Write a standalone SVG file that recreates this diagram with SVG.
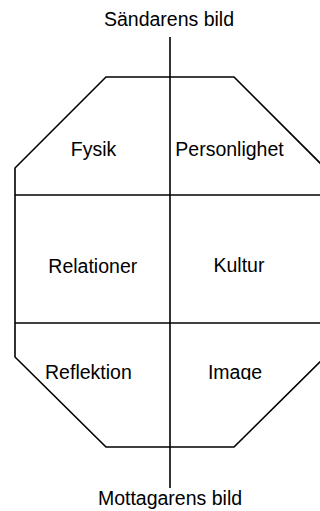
<svg xmlns="http://www.w3.org/2000/svg" width="320" height="511" viewBox="0 0 320 511">
<style>
.ln{fill:none;stroke:#000;stroke-width:1.6}
.t{font-family:"Liberation Sans",Arial,sans-serif;font-size:19.5px;fill:#000;text-anchor:middle}
</style>
<defs>
<clipPath id="cut"><rect x="0" y="0" width="320" height="380"/></clipPath>
</defs>
<rect width="320" height="511" fill="#fff"/>
<g id="outline">
<polygon class="ln" points="106,77 234,77 325,168 325,357 234,447 106,447 15,357 15,168"/>
<line class="ln" x1="15" y1="195" x2="325" y2="195"/>
<line class="ln" x1="15" y1="323" x2="325" y2="323"/>
</g>
<g id="connectors">
<line class="ln" x1="170" y1="37" x2="170" y2="488"/>
</g>
<g id="sender"><text class="t" x="169" y="26">Sändarens bild</text></g>
<g id="fysik"><text class="t" x="93.5" y="156">Fysik</text></g>
<g id="personlighet"><text class="t" x="229.5" y="156">Personlighet</text></g>
<g id="relationer"><text class="t" x="92.8" y="273">Relationer</text></g>
<g id="kultur"><text class="t" x="239" y="272">Kultur</text></g>
<g id="reflektion"><text class="t" x="88.4" y="379">Reflektion</text></g>
<g id="image" clip-path="url(#cut)"><text class="t" x="235" y="379">Image</text></g>
<g id="receiver"><text class="t" x="170" y="505">Mottagarens bild</text></g>
</svg>
